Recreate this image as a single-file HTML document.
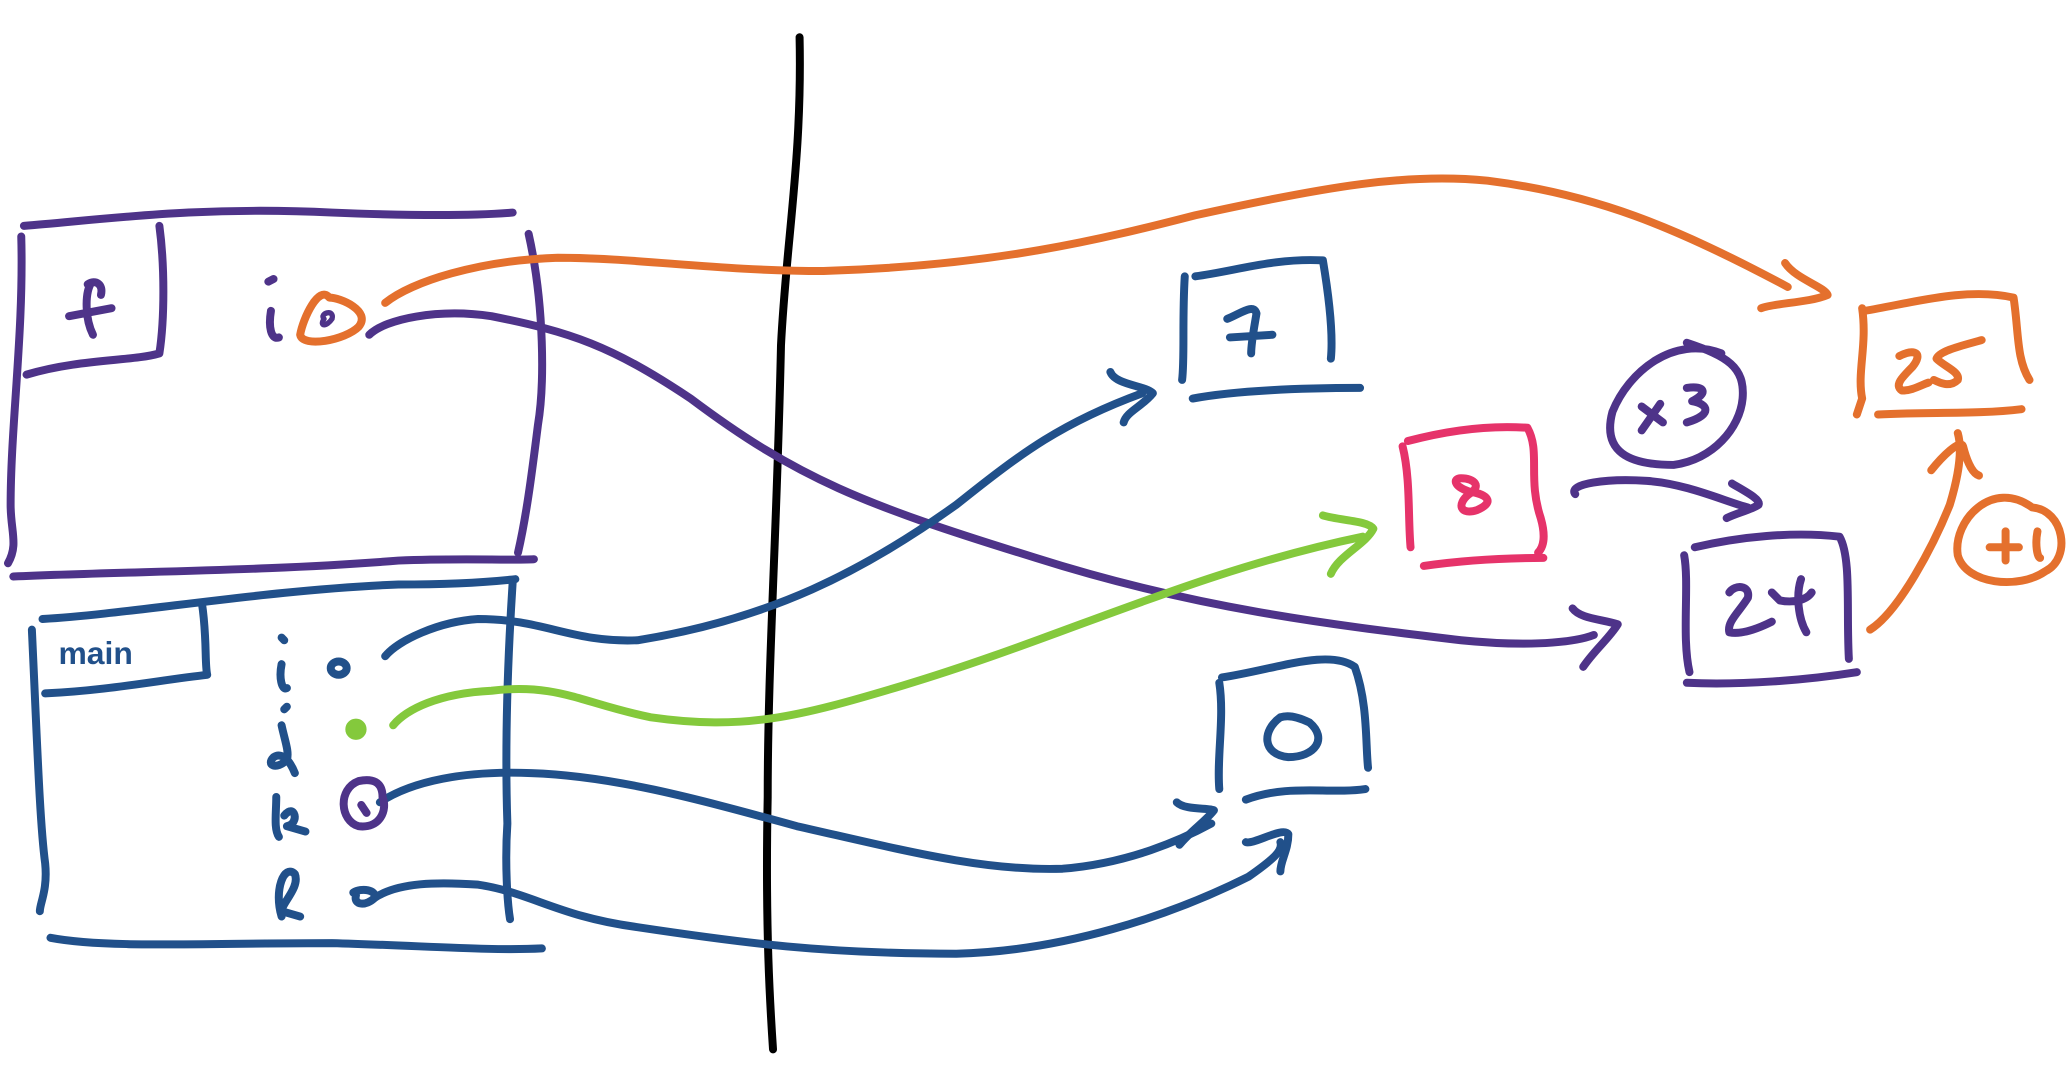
<!DOCTYPE html>
<html><head><meta charset="utf-8"><style>html,body{margin:0;padding:0;background:#fff}svg{display:block}text{font-family:"Liberation Sans",sans-serif}</style></head><body>
<svg width="2072" height="1072" viewBox="0 0 1560 807" xmlns="http://www.w3.org/2000/svg" fill="none" stroke-linecap="round" stroke-linejoin="round" stroke-width="6">
<path d="M602 28 C604 120 592 180 588 260 C585 400 578 500 578 600 C576 700 580 760 582 790" stroke="#000"/>
<g stroke="#4e3389">
<path d="M18 170 C80 165 150 155 250 160 C300 162 350 163 386 160"/>
<path d="M16 178 C18 250 8 320 8 380 C8 400 14 410 6 424"/>
<path d="M10 434 C100 430 200 430 300 422 C350 420 380 422 402 421"/>
<path d="M398 176 C410 230 410 290 405 320 C400 360 396 390 390 416"/>
<path d="M120 170 C124 200 124 240 120 266 C100 272 60 270 20 282"/>
<path d="M52 238 L84 232 M68 214 C64 222 64 240 70 252 M66 214 C72 210 78 214 76 222"/>
<path d="M202 212 L206 210 M204 234 C202 246 204 256 210 254"/>
<path d="M278 252 C290 240 330 232 370 238 C430 250 460 260 520 300 C600 360 650 380 780 420 C900 458 1000 470 1100 482 C1160 488 1190 482 1200 478"/>
<path d="M1184 458 C1190 466 1206 466 1218 470 C1212 480 1200 490 1192 502"/>
<path d="M1268 418 C1272 440 1266 480 1272 506 M1276 412 C1310 404 1350 400 1385 404 C1394 420 1390 460 1392 496 M1270 514 C1310 516 1360 512 1398 506"/>
<path d="M1302 446 C1306 440 1318 440 1316 450 C1310 460 1300 468 1302 476 C1312 478 1326 472 1334 468 M1334 446 L1340 452 C1350 454 1360 452 1364 446 M1356 436 C1352 448 1354 466 1360 476"/>
<path d="M1186 372 C1180 364 1210 360 1240 362 C1270 364 1300 378 1316 382"/>
<path d="M1304 364 C1314 370 1326 376 1324 380 C1318 384 1308 386 1300 390"/>
<path d="M1296 266 C1260 252 1226 280 1214 310 C1206 340 1226 350 1260 350 C1290 346 1310 322 1312 300 C1314 276 1300 268 1270 258"/>
<path d="M1236 306 L1252 318 M1250 304 L1236 324 M1270 292 C1284 290 1286 296 1274 302 C1286 304 1290 312 1270 318"/>
</g>
<g stroke="#21508a">
<path d="M32 466 C100 462 200 444 300 440 C340 440 370 438 388 436"/>
<path d="M24 474 C28 560 30 620 34 650 C36 670 30 680 30 686"/>
<path d="M38 706 C80 714 150 710 250 710 C320 712 370 716 408 714"/>
<path d="M386 438 C382 500 380 560 382 620 C380 650 382 680 384 692"/>
<path d="M152 454 C156 480 154 500 156 508 C120 512 80 520 34 522"/>
<text x="44" y="500" font-size="24" font-weight="bold" fill="#21508a" stroke="none">main</text>
<path d="M212 480 L214 482 M212 500 C210 510 212 520 216 518"/>
<ellipse cx="255" cy="503" rx="6" ry="5"/>
<path d="M214 534 L216 532 M212 546 C214 556 218 566 216 572 C208 580 200 576 206 570 C212 566 218 572 222 582"/>
<path d="M208 600 C208 612 206 624 210 630 M214 614 C222 604 226 620 216 622 L230 626"/>
<path d="M212 690 C206 670 214 650 222 658 C226 668 212 680 212 686 L226 690"/>
<path d="M266 672 C272 668 284 670 282 676 C276 682 266 682 268 674"/>
<path d="M290 494 C300 482 330 468 360 466 C410 466 430 484 480 482 C580 466 650 430 720 380 C770 340 800 318 860 296"/>
<path d="M836 280 C840 290 862 290 868 296 C860 306 848 310 846 318"/>
<path d="M892 208 C890 240 892 270 890 286 M900 208 C930 204 960 194 996 196 C1000 220 1004 250 1002 270 M898 300 C930 294 980 292 1024 292"/>
<path d="M924 240 C934 236 944 228 946 236 C944 248 942 258 942 266 M926 254 L958 252"/>
<path d="M286 604 C310 588 350 580 400 582 C460 584 520 600 600 622 C680 640 740 656 800 654 C850 650 890 632 912 620"/>
<path d="M886 604 C892 610 910 608 914 610 C908 618 896 626 888 636"/>
<path d="M282 676 C300 664 330 664 360 666 C400 672 420 690 480 698 C560 710 620 718 720 718 C800 716 880 690 940 660 C960 646 966 640 964 634"/>
<path d="M938 634 C944 636 966 622 970 628 C970 640 964 648 964 656"/>
<path d="M918 514 C922 540 916 570 918 594 M920 510 C960 504 1000 488 1020 502 C1030 530 1028 560 1030 578 M938 602 C970 590 1000 598 1028 594"/>
<path d="M964 540 C950 550 950 568 970 570 C990 570 1000 556 986 544 C978 540 970 538 964 540"/>
</g>
<path d="M288 600 C288 588 280 586 270 588 C254 594 256 618 270 622 C286 624 292 610 288 600 M272 606 L276 612" stroke="#4e3389"/>
<g stroke="#84c93c">
<path d="M296 546 C306 534 330 522 370 520 C420 514 440 530 490 540 C560 550 600 540 680 516 C800 480 900 430 1026 404"/>
<path d="M996 388 C1010 392 1030 392 1034 398 C1028 410 1008 418 1002 432"/>
<circle cx="268" cy="549" r="5" fill="#84c93c"/>
</g>
<g stroke="#e6336a">
<path d="M1056 336 C1062 360 1060 390 1062 412 M1060 332 C1090 324 1120 320 1150 322 C1160 340 1150 360 1160 390 C1164 404 1162 412 1158 416 M1072 426 C1100 422 1130 420 1162 420"/>
<path d="M1100 360 C1110 360 1116 366 1106 372 C1096 380 1100 388 1112 384 C1126 378 1120 372 1106 370 C1094 366 1094 360 1100 360"/>
</g>
<g stroke="#e4702d">
<path d="M290 228 C310 212 360 196 420 194 C480 194 540 204 620 204 C750 200 830 180 900 162 C1000 140 1060 130 1120 136 C1200 146 1260 170 1346 216"/>
<path d="M1344 198 C1352 210 1374 216 1376 222 C1362 228 1336 228 1326 232"/>
<path d="M248 224 C240 214 228 240 226 252 C228 262 260 256 270 246 C280 234 256 224 248 224"/>
<path d="M1402 232 C1406 260 1398 280 1402 300 L1398 312 M1404 234 C1440 228 1480 216 1516 224 C1520 250 1518 270 1528 286 M1414 312 C1450 310 1490 312 1522 308"/>
<path d="M1430 268 C1442 262 1448 266 1440 276 C1432 284 1426 290 1432 294 C1440 294 1446 290 1452 288 M1492 256 C1478 260 1460 264 1458 270 C1464 276 1476 280 1474 286 C1468 292 1460 288 1456 286"/>
<path d="M1408 474 C1430 460 1456 410 1468 380 C1474 360 1478 340 1474 326"/>
<path d="M1454 354 C1462 344 1476 330 1478 336 C1480 344 1484 356 1490 358"/>
<path d="M1530 382 C1500 360 1470 392 1474 418 C1480 440 1520 444 1540 430 C1560 420 1554 384 1530 382"/>
<path d="M1498 412 L1520 412 M1510 400 L1510 422 M1534 400 C1532 410 1534 420 1536 420"/>
</g>
<path d="M244 240 C240 236 252 232 250 240 C246 246 240 246 244 240" stroke="#4e3389" stroke-width="4"/>
</svg>
</body></html>
